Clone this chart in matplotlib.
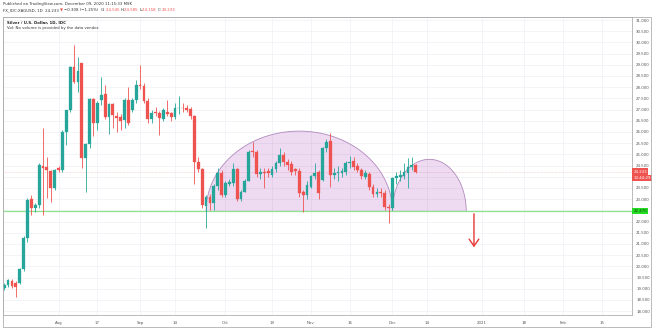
import matplotlib
matplotlib.use("Agg")
import matplotlib.pyplot as plt
import numpy as np
import pandas as pd
from matplotlib.patches import Polygon, Rectangle
from matplotlib.font_manager import FontProperties

# ---------------- data ----------------
start_date = "2020-07-14"
opens = [19.05, 19.17, 19.36, 19.27, 19.27, 19.87, 21.25, 22.99, 22.59, 22.74,
         24.48, 24.42, 24.27, 23.49, 24.40, 24.30, 26.01, 26.98, 28.89, 28.25,
         29.07, 24.82, 25.45, 27.46, 26.39, 27.43, 27.70, 26.65, 27.25, 26.71,
         26.65, 26.52, 27.43, 26.98, 27.43, 28.10, 28.05, 27.40, 26.57, 26.90,
         26.86, 26.56, 26.91, 26.83, 26.68, 27.06, 27.08, 27.06, 27.01, 26.71,
         24.67, 24.33, 22.71, 23.11, 22.81, 23.59, 24.15, 23.19, 23.68, 23.71,
         24.33, 22.99, 23.34, 23.83, 25.12, 25.12, 24.12, 24.23, 24.27, 24.08,
         24.33, 24.60, 24.97, 24.68, 24.57, 24.33, 24.27, 23.33, 23.19, 23.56,
         24.04, 24.23, 23.86, 25.27, 25.61, 24.08, 24.18, 24.18, 24.23, 24.60,
         24.72, 24.48, 24.30, 24.01, 24.12, 23.56, 23.23, 23.30, 23.29, 22.67,
         22.59, 23.93, 23.99, 24.04, 24.16, 24.42, 24.545]
highs = [19.25, 19.45, 19.42, 19.35, 19.95, 21.35, 23.05, 23.19, 22.85, 24.60,
         26.16, 24.90, 24.30, 24.35, 24.50, 26.10, 27.00, 28.95, 29.88, 29.36,
         29.10, 25.50, 27.50, 27.50, 27.40, 28.45, 28.10, 27.30, 27.30, 26.90,
         26.80, 27.50, 28.00, 27.50, 28.30, 28.98, 28.20, 27.50, 27.00, 27.10,
         26.95, 27.05, 27.43, 26.90, 27.28, 27.60, 27.30, 27.20, 27.10, 26.75,
         24.90, 24.40, 23.20, 23.25, 23.70, 24.40, 24.30, 23.80, 23.90, 24.60,
         24.40, 23.40, 23.90, 25.20, 25.57, 25.20, 24.40, 24.40, 24.40, 24.50,
         24.70, 25.27, 25.10, 24.80, 24.70, 24.40, 24.40, 23.40, 23.80, 24.10,
         24.60, 24.30, 25.35, 25.70, 25.97, 24.40, 24.50, 24.40, 24.70, 24.95,
         24.90, 24.60, 24.40, 24.30, 24.20, 23.70, 23.50, 23.50, 23.40, 22.80,
         24.00, 24.20, 24.30, 24.60, 24.82, 24.90, 24.585]
lows = [18.95, 19.10, 19.05, 18.65, 19.20, 19.80, 21.10, 22.30, 22.45, 22.60,
        22.30, 23.04, 22.89, 23.40, 24.20, 24.20, 25.40, 26.90, 28.20, 27.80,
        24.40, 23.34, 25.30, 25.80, 26.10, 27.20, 26.60, 25.90, 26.20, 26.00,
        26.10, 26.20, 26.30, 26.90, 27.30, 27.90, 27.30, 26.40, 26.40, 26.70,
        25.87, 26.50, 26.70, 26.50, 26.60, 26.80, 26.90, 26.90, 26.60, 23.70,
        24.20, 22.60, 21.70, 22.50, 22.50, 23.40, 23.10, 23.10, 23.60, 23.60,
        22.90, 22.90, 23.30, 23.80, 24.90, 24.00, 23.90, 23.50, 24.00, 24.00,
        24.20, 24.50, 24.50, 24.30, 24.10, 24.10, 23.10, 22.44, 23.00, 23.50,
        23.90, 23.00, 23.80, 25.10, 23.56, 23.90, 23.80, 24.00, 24.10, 24.40,
        24.30, 24.20, 23.90, 23.90, 23.40, 23.10, 23.10, 23.10, 22.50, 21.92,
        22.50, 23.70, 23.80, 23.90, 23.49, 24.30, 24.158]
closes = [19.15, 19.39, 19.13, 19.10, 19.87, 21.25, 22.96, 22.59, 22.74, 24.53,
          24.38, 24.30, 23.49, 24.30, 24.30, 26.01, 26.98, 28.89, 28.25, 28.74,
          24.82, 25.45, 27.46, 26.39, 27.31, 27.65, 26.65, 27.25, 26.76, 26.61,
          26.50, 27.43, 26.39, 27.43, 28.10, 28.05, 27.40, 26.57, 26.86, 26.83,
          26.61, 26.98, 26.80, 26.65, 27.06, 27.08, 27.06, 26.98, 26.71, 24.67,
          24.33, 22.74, 23.11, 22.81, 23.59, 24.15, 23.19, 23.71, 23.78, 24.33,
          22.99, 23.34, 23.83, 25.12, 25.10, 24.12, 24.23, 24.16, 24.18, 24.33,
          24.60, 24.97, 24.68, 24.53, 24.23, 24.27, 23.26, 23.19, 23.63, 24.04,
          24.18, 23.26, 25.27, 25.57, 24.08, 24.18, 24.19, 24.26, 24.60, 24.68,
          24.42, 24.30, 24.04, 24.16, 23.56, 23.23, 23.34, 23.29, 22.67, 22.59,
          23.93, 24.04, 24.08, 24.23, 24.42, 24.53, 24.233]

support_price = 22.47
support_label = "22.470"
last_price = 24.233
countdown = "13:44:29"

# arcs: (start bar, end bar, peak price) drawn on the support line
arc_big = (52, 100, 26.04)
arc_small = (100, 119, 24.78)
arrow_bar = 121
arrow_target = 20.73

y_ticks = [18.0 + 0.5 * k for k in range(27)]
x_tick_dates = ["2020-08-03", "2020-08-17", "2020-09-01", "2020-09-14", "2020-10-01",
                "2020-10-19", "2020-11-02", "2020-11-16", "2020-12-01", "2020-12-14",
                "2021-01-01", "2021-01-18", "2021-02-01", "2021-02-15"]
x_tick_labels = ["Aug", "17", "Sep", "14", "Oct", "19", "Nov", "16", "Dec", "14",
                 "2021", "18", "Feb", "15"]

header1 = "Published on TradingView.com, December 09, 2020 11:15:33 MSK"
legend1 = "Silver / U.S. Dollar, 1D, IDC"
legend2 = "Vol: No volume is provided by the data vendor."

# ---------------- figure ----------------
W, H = 654, 328
fig = plt.figure(figsize=(W / 100, H / 100), dpi=100)
fig.patch.set_facecolor("white")

def fx(px):
    return px / W

def fy(py):
    return 1 - py / H

left, right, top, bottom = 3, 632, 17, 315
ax = fig.add_axes([fx(left), fy(bottom), (right - left) / W, (bottom - top) / H])
ax.set_facecolor("white")

UP = "#26a69a"
DN = "#ef5350"
FS = 2.75
TXT = "#555555"

n = len(opens)
idx = np.arange(n)
bdays = pd.bdate_range(start_date, "2021-03-31")
pos = {d.strftime("%Y-%m-%d"): i for i, d in enumerate(bdays)}
xt = [pos[d] for d in x_tick_dates]

ax.set_xlim(-0.3, 161.7)
ax.set_ylim(17.83, 31.134)

# grid
for t in y_ticks:
    ax.axhline(t, color="#f0f2f6", lw=0.6, zorder=0)
for t in xt:
    ax.axvline(t, color="#f0f2f6", lw=0.6, zorder=0)

# arcs
def half_ellipse(a, b, peak, base):
    c = (a + b) / 2
    w = (b - a) / 2
    t = np.linspace(np.pi, 0, 200)
    xs = c + w * np.cos(t)
    ys = base + (peak - base) * np.sin(t)
    return np.column_stack([xs, ys])

for a, b, pk in (arc_big, arc_small):
    pts = half_ellipse(a, b, pk, support_price)
    ax.add_patch(Polygon(pts, closed=True, facecolor="#9c27b0", alpha=0.17,
                         edgecolor="none", zorder=1))
    ax.plot(pts[:, 0], pts[:, 1], color="#b08abd", lw=0.6, zorder=1.1)

# support line
ax.axhline(support_price, color="#8fe38f", lw=0.9, zorder=1.5)
# last price line
ax.axhline(last_price, color="#f5c4c4", lw=0.5, ls=(0, (1, 1)), zorder=0.5)

# candles
for i in idx:
    o, h, l, c = opens[i], highs[i], lows[i], closes[i]
    col = UP if c >= o else DN
    ax.vlines(i, l, h, color=col, lw=0.6, zorder=2)
    lo, hi = min(o, c), max(o, c)
    if hi - lo < 0.03:
        hi = lo + 0.03
    ax.add_patch(Rectangle((i - 0.36, lo), 0.72, hi - lo, facecolor=col,
                           edgecolor=col, lw=0.2, zorder=3))

# arrow
ax.annotate("", xy=(arrow_bar, arrow_target), xytext=(arrow_bar, support_price),
            arrowprops=dict(arrowstyle="->,head_length=0.5,head_width=0.35",
                            color="#e53935", lw=1.0), zorder=4)

# axes styling
for s in ax.spines.values():
    s.set_color("#b0b0b0")
    s.set_linewidth(0.6)
ax.yaxis.tick_right()
hidden = {24.0, 22.5}
ax.set_yticks(y_ticks)
ax.set_yticklabels(["" if round(t, 1) in hidden else f"{t:.3f}" for t in y_ticks])
ax.tick_params(axis="y", length=0, pad=3.0, labelsize=FS, labelcolor=TXT)
ax.set_xticks(xt)
ax.set_xticklabels(x_tick_labels)
ax.tick_params(axis="x", length=0, pad=4.5, labelsize=FS, labelcolor=TXT)

# price labels on axis
def price_box(yval, text, fc, tc, fs=FS):
    ax.text(1.0 + 1.5 / (right - left), yval, text, transform=ax.get_yaxis_transform(),
            ha="left", va="center", fontsize=fs, color=tc, zorder=10, clip_on=False,
            bbox=dict(boxstyle="square,pad=0.3", fc=fc, ec="none"))

price_box(last_price, f"{last_price:.3f}", DN, "white")
price_box(last_price - 0.30, countdown, DN, "white")
price_box(support_price, support_label, "#22dd22", "#1a3a1a")

# outer frame
fig.add_artist(Rectangle((fx(left), fy(327)), fx(651) - fx(left), fy(top) - fy(327),
                         transform=fig.transFigure, fill=False, ec="#b0b0b0", lw=0.6))

# header text
fig.text(fx(3), fy(4), header1, fontsize=FS, color="#333333", va="center", ha="left")

renderer = fig.canvas.get_renderer()
prop = FontProperties(family="DejaVu Sans", size=FS)

def str_width(s):
    w1, _, _ = renderer.get_text_width_height_descent(s + "|", prop, ismath=False)
    w0, _, _ = renderer.get_text_width_height_descent("|", prop, ismath=False)
    return w1 - w0

pieces = [("FX_IDC:XAGUSD, 1D  24.233 ", "#333333"), ("\u25bc ", DN),
          ("\u22120.308 (\u22121.25%)  ", "#333333"),
          ("O:", "#333333"), ("24.545 ", DN), ("H:", "#333333"), ("24.585 ", DN),
          ("L:", "#333333"), ("24.158 ", DN), ("C:", "#333333"), ("24.233", DN)]
prefix = ""
for txt, col in pieces:
    xoff = str_width(prefix) / fig.bbox.width if prefix else 0.0
    fig.text(fx(3) + xoff, fy(10), txt, fontsize=FS, color=col, va="center",
             ha="left", fontproperties=prop)
    prefix += txt

fig.text(fx(7), fy(22.5), legend1, fontsize=FS, color="#222222", va="center",
         ha="left", fontweight="bold")
fig.text(fx(7), fy(28), legend2, fontsize=FS, color="#333333", va="center", ha="left")

fig.savefig("out.png", dpi=100, facecolor="white")
